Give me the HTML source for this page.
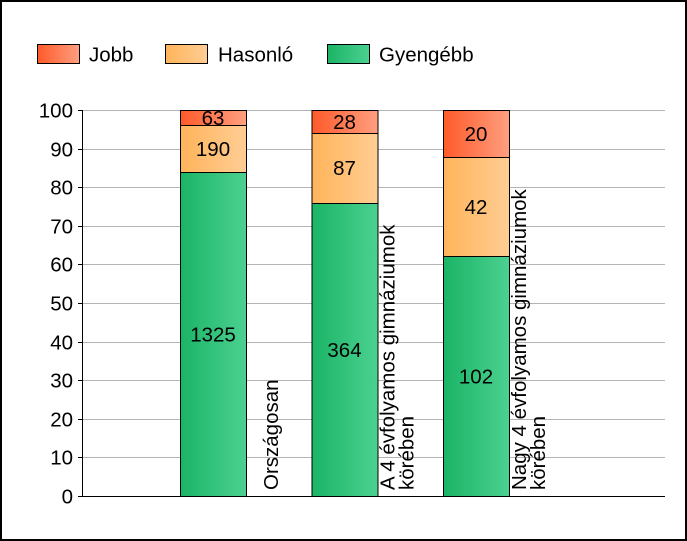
<!DOCTYPE html>
<html><head><meta charset="utf-8"><style>
html,body{margin:0;padding:0;background:#fff}
svg{display:block;font-family:"Liberation Sans",Arial,sans-serif}
</style></head><body>
<svg width="687" height="541" viewBox="0 0 687 541">
<defs>
<linearGradient id="gR" x1="0" x2="1" y1="0" y2="0"><stop offset="0" stop-color="#ff5a2a"/><stop offset="1" stop-color="#ff9f80"/></linearGradient>
<linearGradient id="gO" x1="0" x2="1" y1="0" y2="0"><stop offset="0" stop-color="#ffb45a"/><stop offset="1" stop-color="#ffcd94"/></linearGradient>
<linearGradient id="gG" x1="0" x2="1" y1="0" y2="0"><stop offset="0" stop-color="#1bb466"/><stop offset="1" stop-color="#4bd190"/></linearGradient>
</defs>
<rect x="1" y="1" width="685" height="539" fill="#fff" stroke="#000" stroke-width="2"/>
<g id="legend">
<rect x="37.5" y="44.5" width="42" height="19" fill="url(#gR)" stroke="#000"/>
<text x="89" y="61.5" font-size="20.5">Jobb</text>
<rect x="165.5" y="44.5" width="42" height="19" fill="url(#gO)" stroke="#000"/>
<text x="218" y="61.5" font-size="20.5">Hasonló</text>
<rect x="327.5" y="44.5" width="42" height="19" fill="url(#gG)" stroke="#000"/>
<text x="379" y="61.5" font-size="20.5">Gyengébb</text>
</g>
<g id="grid"></g>
<g id="bars"></g>
<g id="labels"></g>
<line x1="82.5" y1="110" x2="82.5" y2="496" stroke="#000"/>
<line x1="78" y1="496.5" x2="665" y2="496.5" stroke="#000"/>
</svg>
<script>
const categories = [["Országosan"], ["A 4 évfolyamos gimnáziumok", "körében"], ["Nagy 4 évfolyamos gimnáziumok", "körében"]];
const gyengebb = [1325, 364, 102];
const hasonlo = [190, 87, 42];
const jobb = [63, 28, 20];
const yTicks = [0, 10, 20, 30, 40, 50, 60, 70, 80, 90, 100];

const NS = "http://www.w3.org/2000/svg";
const FS = 20.5;
const y = v => 496 - v * 3.86;
const xc = i => 213 + i * 131.5;
const BW = 66;
function mk(tag, attrs, parent) {
  const e = document.createElementNS(NS, tag);
  for (const k in attrs) e.setAttribute(k, attrs[k]);
  parent.appendChild(e);
  return e;
}
const grid = document.getElementById("grid");
yTicks.forEach(t => {
  const yy = Math.round(y(t)) + 0.5;
  if (t > 0) {
    const l = mk("line", {x1: 82, x2: 665, y1: yy, y2: yy, stroke: "#b4b4b4"}, grid);
    
    
  }
  const tk = mk("line", {x1: 78, x2: 82, y1: yy, y2: yy, stroke: "#000"}, grid);
  
  
  const tx = mk("text", {x: 73, y: yy + 7, "font-size": FS, "text-anchor": "end"}, grid);
  tx.textContent = t;
  
  
});
const bars = document.getElementById("bars");
const labels = document.getElementById("labels");
categories.forEach((cat, i) => {
  const total = gyengebb[i] + hasonlo[i] + jobb[i];
  const segs = [[gyengebb[i], "url(#gG)", "gyengebb"], [hasonlo[i], "url(#gO)", "hasonlo"], [jobb[i], "url(#gR)", "jobb"]];
  let acc = 0;
  segs.forEach(s => {
    const p0 = acc, p1 = acc + s[0] / total * 100;
    acc = p1;
    const y0 = y(p0), y1 = y(p1);
    const r = mk("rect", {x: xc(i) - BW / 2 + 0.5, y: Math.round(y1) + 0.5, width: BW, height: Math.round(y0) - Math.round(y1), fill: s[1], stroke: "#000"}, bars);
    
    
    const t = mk("text", {x: xc(i), y: (y0 + y1) / 2 + 7.5, "font-size": FS, "text-anchor": "middle"}, bars);
    t.textContent = s[0];
    
    
  });
  cat.forEach((line, j) => {
    let bx = cat.length === 1 ? xc(i) + 65 : xc(i) + 50 + j * 19;
    const t = mk("text", {x: 0, y: 0, "font-size": FS, transform: "translate(" + bx + ",490) rotate(-90)"}, labels);
    t.textContent = line;
    
    
  });
});
</script>
</body></html>
